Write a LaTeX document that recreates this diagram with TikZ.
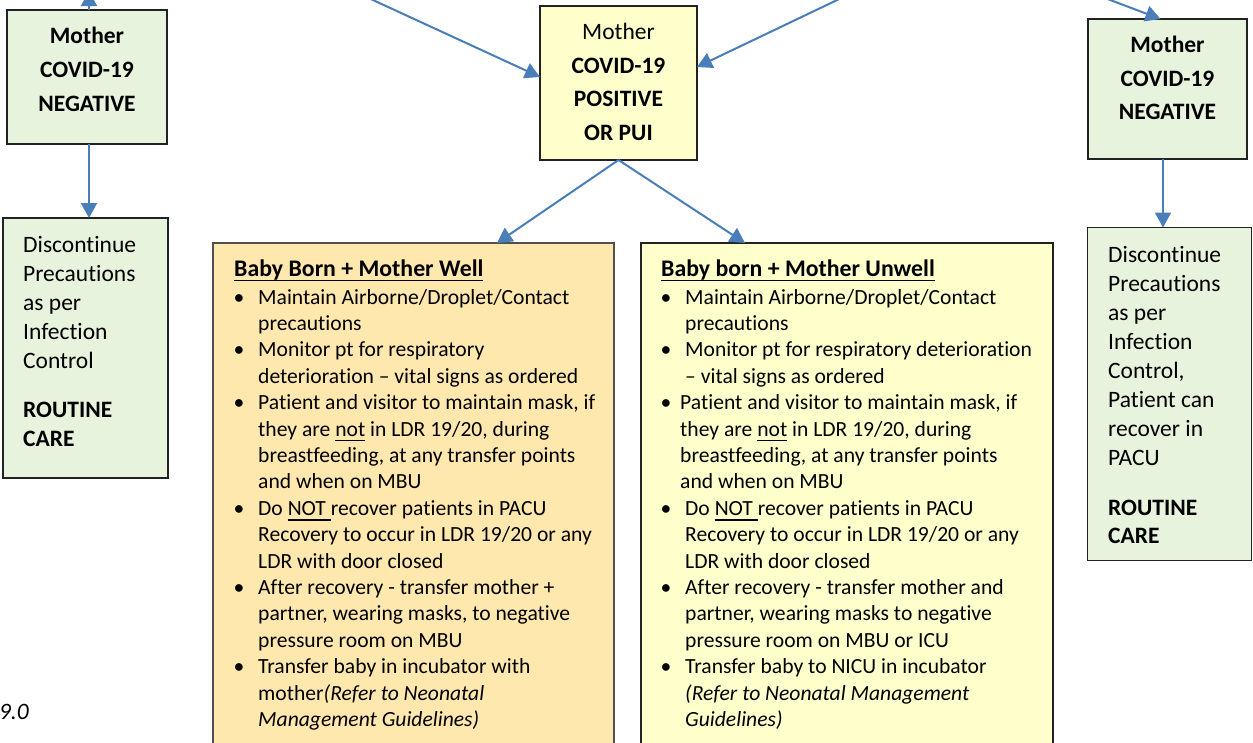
\documentclass[tikz,border=0pt]{standalone}
\usepackage{fontspec}
\setmainfont[Ligatures={NoCommon,NoContextual}]{Carlito}
\usetikzlibrary{arrows.meta,calc}
\newsavebox{\ulbox}
\newcommand{\ulx}[1]{\sbox{\ulbox}{#1}\rlap{\rule[-5.4pt]{\wd\ulbox}{1.4pt}}\usebox{\ulbox}}
\definecolor{arrowblue}{HTML}{4A7EBB}
\definecolor{greenfill}{HTML}{E8F3DE}
\definecolor{yellowfill}{HTML}{FFFFCC}
\definecolor{orangefill}{HTML}{FFE8AE}
\definecolor{boxline}{HTML}{222222}
\definecolor{boxlinegray}{HTML}{505050}
\newcommand{\lt}[4]{\node[listtext,anchor=base west] (#1) at (#2,#3) {#4};}
\newcommand{\bu}[3]{\node[listtext,anchor=base] (#1) at (#2,#3) {•};}
\newcommand{\gt}[4]{\node[greentext,anchor=base west] (#1) at (#2,#3) {#4};}
\newcommand{\mt}[4]{\node[mothertext,anchor=base] (#1) at (#2,#3) {#4};}
\begin{document}
\begin{tikzpicture}[x=1pt,y=-1pt,
  boxbase/.style={draw=boxline,line width=1.4pt,inner sep=0pt,outer sep=0pt,rectangle},
  greenbox/.style={boxbase,fill=greenfill},
  yellowbox/.style={boxbase,fill=yellowfill},
  orangebox/.style={boxbase,draw=boxlinegray,line width=1.8pt,fill=orangefill},
  listtext/.style={inner sep=0pt,font=\fontsize{21.6}{26.4}\selectfont},
  greentext/.style={inner sep=0pt,font=\fontsize{23.5}{29}\selectfont},
  mothertext/.style={inner sep=0pt,font=\fontsize{23.5}{33.7}\selectfont},
  titletext/.style={inner sep=0pt,anchor=base west,font=\fontsize{23.8}{29}\selectfont\bfseries},
  conn/.style={draw=arrowblue,line width=2pt,-{Triangle[length=15pt,width=16pt]}}
]
\useasboundingbox (0,0) rectangle (1253,742);
\clip (0,0) rectangle (1253,742);
\fill[white] (0,0) rectangle (1253,742);

% boxes
\node[greenbox,minimum width=160,minimum height=134] (ltop) at (87,77) {};
\node[greenbox,minimum width=165,minimum height=260] (lbot) at (85.5,348) {};
\node[yellowbox,minimum width=157,minimum height=154] (ctr) at (618.5,83) {};
\node[greenbox,minimum width=159,minimum height=140] (rtop) at (1167.5,89) {};
\node[greenbox,minimum width=164,minimum height=333] (rbot) at (1169.5,394) {};
\node[orangebox,minimum width=401,minimum height=517] (bl) at (413.5,501.5) {};
\node[yellowbox,minimum width=412,minimum height=517] (br) at (847,501.5) {};

% free ends of connectors (outside the visible area)
\coordinate (lupend) at (89,-9);
\coordinate (tlsrc) at (323,-23);
\coordinate (trsrc) at (879,-20);
\coordinate (rsrc) at (1060,-19);

% connectors
\draw[conn] ([xshift=2pt]ltop.north) -- (lupend);
\draw[conn] ([xshift=2pt]ltop.south) -- ([xshift=2pt]ltop.south |- lbot.north);
\draw[conn] (tlsrc) -- ([yshift=6pt]ctr.west);
\draw[conn] (trsrc) -- ([yshift=16pt]ctr.east);
\draw[conn] (rsrc) -- ([xshift=-7pt]rtop.north);
\draw[conn] ([xshift=-4.5pt]rtop.south) -- ([xshift=-4.5pt]rtop.south |- rbot.north);
\draw[conn] (ctr.south) -- ([xshift=83.5pt]bl.north);
\draw[conn] (ctr.south) -- ([xshift=-102pt]br.north);

% mother boxes
\mt{m1}{87}{43}{\bfseries Mother}
\mt{m2}{87}{77}{\bfseries COVID-19}
\mt{m3}{87}{111}{\bfseries NEGATIVE}
\mt{c1}{618.5}{39}{Mother}
\mt{c2}{618.5}{73}{\bfseries COVID-19}
\mt{c3}{618.5}{106}{\bfseries POSITIVE}
\mt{c4}{618.5}{140}{\bfseries OR PUI}
\mt{r1}{1167.5}{52}{\bfseries Mother}
\mt{r2}{1167.5}{86}{\bfseries COVID-19}
\mt{r3}{1167.5}{119}{\bfseries NEGATIVE}

% left bottom green text
\gt{g1}{23}{252}{Discontinue}
\gt{g2}{23}{281}{Precautions}
\gt{g3}{23}{310}{as per}
\gt{g4}{23}{339}{Infection}
\gt{g5}{23}{368}{Control}
\gt{g6}{23}{417}{\bfseries ROUTINE}
\gt{g7}{23}{446}{\bfseries CARE}

% right bottom green text
\gt{h1}{1108}{262}{Discontinue}
\gt{h2}{1108}{291}{Precautions}
\gt{h3}{1108}{320}{as per}
\gt{h4}{1108}{349}{Infection}
\gt{h5}{1108}{378}{Control,}
\gt{h6}{1108}{407}{Patient can}
\gt{h7}{1108}{436}{recover in}
\gt{h8}{1108}{465}{PACU}
\gt{h9}{1108}{515}{\bfseries ROUTINE}
\gt{h10}{1108}{543}{\bfseries CARE}

% left big box
\node[titletext] (blt) at (234,276) {\ulx{Baby Born + Mother Well}};
\bu{lb0}{239}{304}
\lt{la0}{258}{304}{Maintain Airborne/Droplet/Contact}
\lt{la1}{258}{330.4}{precautions}
\bu{lb2}{239}{356.8}
\lt{la2}{258}{356.8}{Monitor pt for respiratory}
\lt{la3}{258}{383.2}{deterioration – vital signs as ordered}
\bu{lb4}{239}{409.6}
\lt{la4}{258}{409.6}{Patient and visitor to maintain mask, if}
\lt{la5}{258}{436}{they are \ulx{not} in LDR 19/20, during}
\lt{la6}{258}{462.4}{breastfeeding, at any transfer points}
\lt{la7}{258}{488.8}{and when on MBU}
\bu{lb8}{239}{515.2}
\lt{la8}{258}{515.2}{Do \ulx{NOT }recover patients in PACU}
\lt{la9}{258}{541.6}{Recovery to occur in LDR 19/20 or any}
\lt{la10}{258}{568}{LDR with door closed}
\bu{lb11}{239}{594.4}
\lt{la11}{258}{594.4}{After recovery - transfer mother +}
\lt{la12}{258}{620.8}{partner, wearing masks, to negative}
\lt{la13}{258}{647.2}{pressure room on MBU}
\bu{lb14}{239}{673.6}
\lt{la14}{258}{673.6}{Transfer baby in incubator with}
\lt{la15}{258}{700}{mother\textit{(Refer to Neonatal}}
\lt{la16}{258}{726.4}{\textit{Management Guidelines)}}

% right big box
\node[titletext] (brt) at (661,276) {\ulx{Baby born + Mother Unwell}};
\bu{rb0}{666}{304}
\lt{ra0}{685}{304}{Maintain Airborne/Droplet/Contact}
\lt{ra1}{685}{330.4}{precautions}
\bu{rb2}{666}{356.8}
\lt{ra2}{685}{356.8}{Monitor pt for respiratory deterioration}
\lt{ra3}{685}{383.2}{– vital signs as ordered}
\bu{rb4}{666}{409.6}
\lt{ra4}{680}{409.6}{Patient and visitor to maintain mask, if}
\lt{ra5}{680}{436}{they are \ulx{not} in LDR 19/20, during}
\lt{ra6}{680}{462.4}{breastfeeding, at any transfer points}
\lt{ra7}{680}{488.8}{and when on MBU}
\bu{rb8}{666}{515.2}
\lt{ra8}{685}{515.2}{Do \ulx{NOT }recover patients in PACU}
\lt{ra9}{685}{541.6}{Recovery to occur in LDR 19/20 or any}
\lt{ra10}{685}{568}{LDR with door closed}
\bu{rb11}{666}{594.4}
\lt{ra11}{685}{594.4}{After recovery - transfer mother and}
\lt{ra12}{685}{620.8}{partner, wearing masks to negative}
\lt{ra13}{685}{647.2}{pressure room on MBU or ICU}
\bu{rb14}{666}{673.6}
\lt{ra14}{685}{673.6}{Transfer baby to NICU in incubator}
\lt{ra15}{685}{700}{\textit{(Refer to Neonatal Management}}
\lt{ra16}{685}{726.4}{\textit{Guidelines)}}

% stray version fragment
\node[greentext,anchor=base east,font=\fontsize{23.5}{29}\selectfont\itshape] (ver) at (29,719) {9.0};
\end{tikzpicture}
\end{document}
